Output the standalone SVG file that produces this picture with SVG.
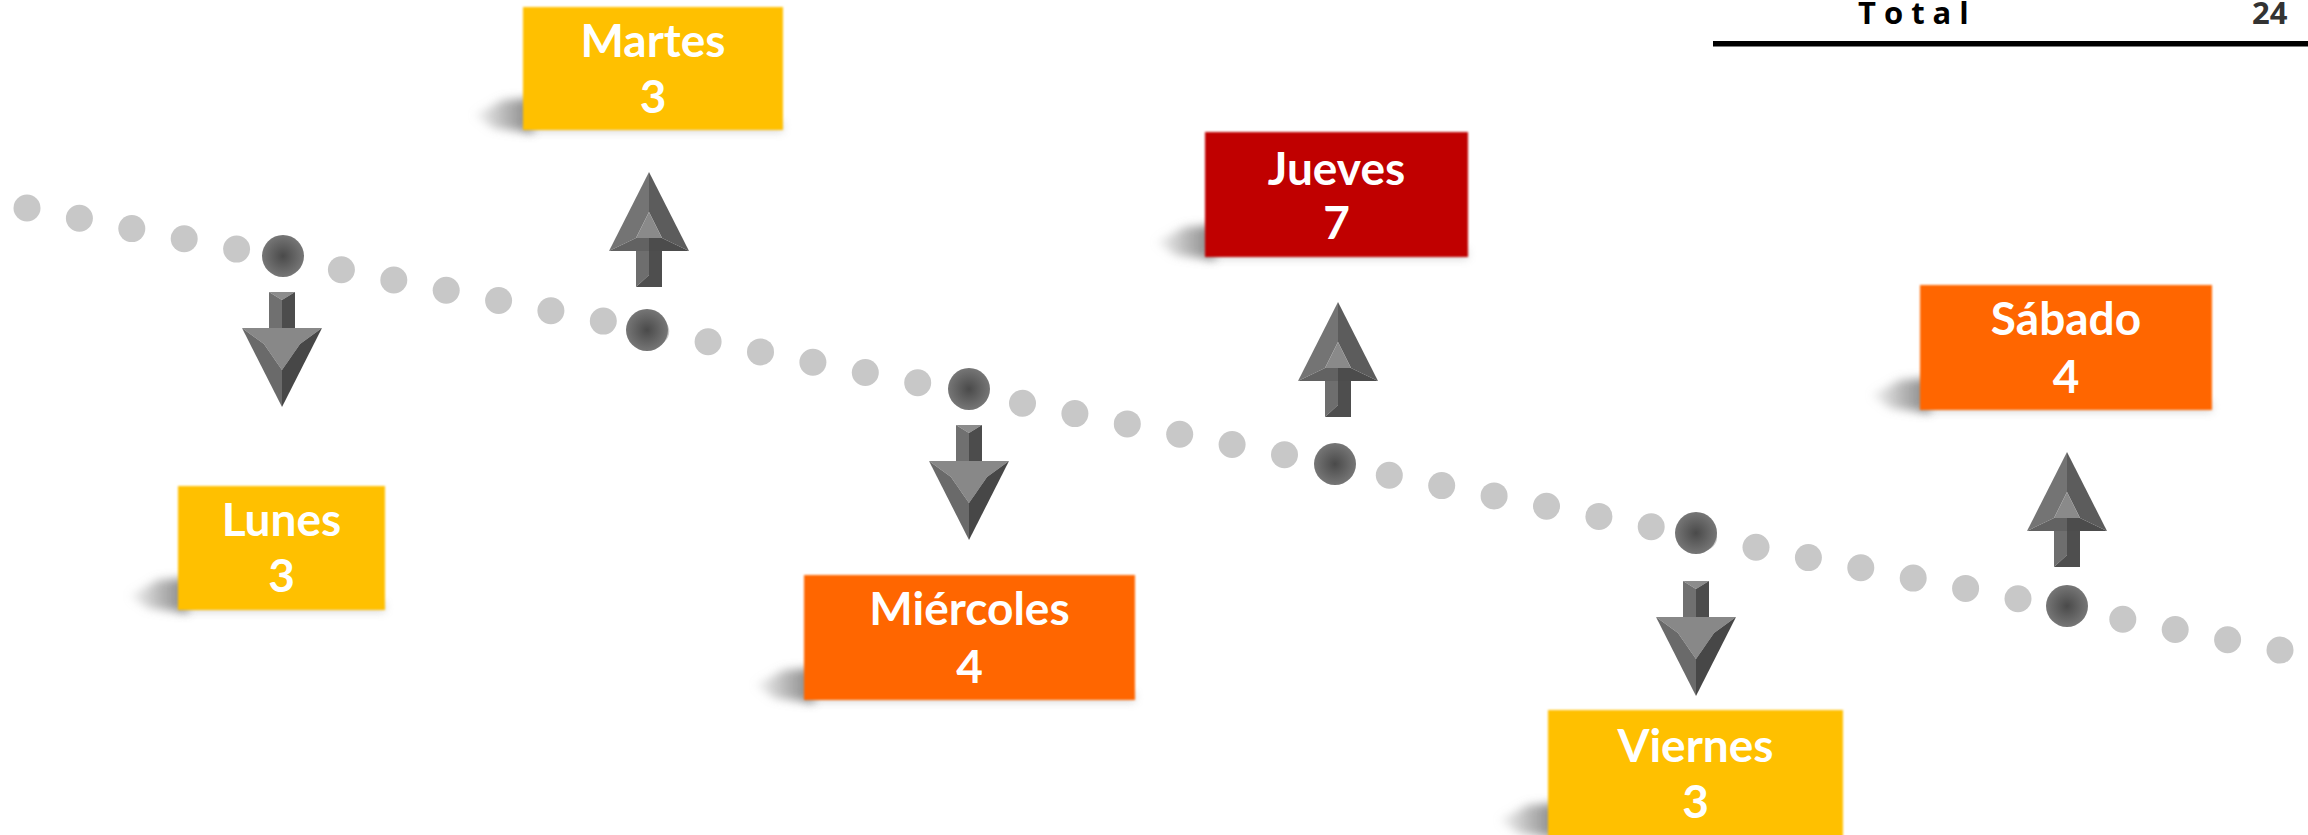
<svg xmlns="http://www.w3.org/2000/svg" xmlns:xlink="http://www.w3.org/1999/xlink" width="2308" height="835" viewBox="0 0 2308 835">
<style>
.lbl{font-family:Lato,"Open Sans","Liberation Sans",sans-serif;font-weight:bold;font-size:46px;fill:#ffffff;text-anchor:middle}
.dot{fill:#c8c8c8}
.hub{fill:url(#hubGrad)}
.shadow{fill:url(#shGrad);filter:url(#blur5)}
.glow{fill:#a0a0a0;opacity:0.4;filter:url(#blur4)}
.box{filter:url(#soft)}
.yellow{fill:#ffc000}
.orange{fill:#ff6600}
.red{fill:#c00000}
.tot{font-family:"Open Sans","Liberation Sans",sans-serif;font-weight:bold;font-size:31px}
</style>
<defs>
<radialGradient id="hubGrad" cx="0.5" cy="0.5" r="0.5">
<stop offset="0" stop-color="#4a4a4a"/>
<stop offset="1" stop-color="#767676"/>
</radialGradient>
<linearGradient id="shGrad" x1="0" y1="0" x2="1" y2="0">
<stop offset="0" stop-color="#b0b0b0" stop-opacity="0.2"/>
<stop offset="0.5" stop-color="#8a8a8a" stop-opacity="0.6"/>
<stop offset="1" stop-color="#6a6a6a" stop-opacity="0.85"/>
</linearGradient>
<filter id="blur5" x="-50%" y="-50%" width="200%" height="200%"><feGaussianBlur stdDeviation="5"/></filter>
<filter id="blur4" x="-20%" y="-100%" width="140%" height="300%"><feGaussianBlur stdDeviation="4"/></filter>
<filter id="soft" x="-5%" y="-5%" width="110%" height="110%"><feGaussianBlur stdDeviation="1.2"/></filter>
<g id="up">
<polygon points="0,0 -40,79 -13,66 0,40" fill="#747474"/>
<polygon points="0,0 0,40 13,66 40,79" fill="#5c5c5c"/>
<polygon points="0,40 -13,66 13,66" fill="#8a8a8a"/>
<polygon points="-40,79 -13,66 0,66 0,79" fill="#626262"/>
<polygon points="40,79 13,66 0,66 0,79" fill="#4c4c4c"/>
<polygon points="-13,79 0,79 0,103 -13,115" fill="#6e6e6e"/>
<polygon points="0,79 13,79 13,115 -13,115 0,103" fill="#4e4e4e"/>
</g>
<g id="down">
<polygon points="-13,0 13,0 0,8" fill="#8c8c8c"/>
<polygon points="-13,0 0,8 0,40 -13,40" fill="#707070"/>
<polygon points="13,0 0,8 0,40 13,40" fill="#4c4c4c"/>
<polygon points="-40,36 40,36 18,52 0,78 -18,52" fill="#888888"/>
<polygon points="-40,36 -18,52 0,78 0,115" fill="#6a6a6a"/>
<polygon points="40,36 18,52 0,78 0,115" fill="#474747"/>
</g>
</defs>
<rect width="2308" height="835" fill="#ffffff"/>

<g id="total">
<text class="tot" x="1858" y="24" letter-spacing="8" fill="#000000">Total</text>
<text class="tot" x="2252" y="24" fill="#333333">24</text>
<rect x="1713" y="41" width="595" height="5.5" fill="#000000"/>
</g>

<g id="connectors">
<g id="dots">
<circle class="dot" cx="27.0" cy="208.0" r="13.5"/>
<circle class="dot" cx="79.4" cy="218.3" r="13.5"/>
<circle class="dot" cx="131.8" cy="228.6" r="13.5"/>
<circle class="dot" cx="184.2" cy="238.8" r="13.5"/>
<circle class="dot" cx="236.6" cy="249.1" r="13.5"/>
<circle class="dot" cx="289.0" cy="259.4" r="13.5"/>
<circle class="dot" cx="341.4" cy="269.7" r="13.5"/>
<circle class="dot" cx="393.8" cy="280.0" r="13.5"/>
<circle class="dot" cx="446.2" cy="290.2" r="13.5"/>
<circle class="dot" cx="498.6" cy="300.5" r="13.5"/>
<circle class="dot" cx="550.9" cy="310.8" r="13.5"/>
<circle class="dot" cx="603.3" cy="321.1" r="13.5"/>
<circle class="dot" cx="655.7" cy="331.4" r="13.5"/>
<circle class="dot" cx="708.1" cy="341.7" r="13.5"/>
<circle class="dot" cx="760.5" cy="351.9" r="13.5"/>
<circle class="dot" cx="812.9" cy="362.2" r="13.5"/>
<circle class="dot" cx="865.3" cy="372.5" r="13.5"/>
<circle class="dot" cx="917.7" cy="382.8" r="13.5"/>
<circle class="dot" cx="970.1" cy="393.1" r="13.5"/>
<circle class="dot" cx="1022.5" cy="403.3" r="13.5"/>
<circle class="dot" cx="1074.9" cy="413.6" r="13.5"/>
<circle class="dot" cx="1127.3" cy="423.9" r="13.5"/>
<circle class="dot" cx="1179.7" cy="434.2" r="13.5"/>
<circle class="dot" cx="1232.1" cy="444.5" r="13.5"/>
<circle class="dot" cx="1284.5" cy="454.8" r="13.5"/>
<circle class="dot" cx="1336.9" cy="465.0" r="13.5"/>
<circle class="dot" cx="1389.3" cy="475.3" r="13.5"/>
<circle class="dot" cx="1441.7" cy="485.6" r="13.5"/>
<circle class="dot" cx="1494.1" cy="495.9" r="13.5"/>
<circle class="dot" cx="1546.5" cy="506.2" r="13.5"/>
<circle class="dot" cx="1598.9" cy="516.4" r="13.5"/>
<circle class="dot" cx="1651.2" cy="526.7" r="13.5"/>
<circle class="dot" cx="1703.6" cy="537.0" r="13.5"/>
<circle class="dot" cx="1756.0" cy="547.3" r="13.5"/>
<circle class="dot" cx="1808.4" cy="557.6" r="13.5"/>
<circle class="dot" cx="1860.8" cy="567.8" r="13.5"/>
<circle class="dot" cx="1913.2" cy="578.1" r="13.5"/>
<circle class="dot" cx="1965.6" cy="588.4" r="13.5"/>
<circle class="dot" cx="2018.0" cy="598.7" r="13.5"/>
<circle class="dot" cx="2070.4" cy="609.0" r="13.5"/>
<circle class="dot" cx="2122.8" cy="619.3" r="13.5"/>
<circle class="dot" cx="2175.2" cy="629.5" r="13.5"/>
<circle class="dot" cx="2227.6" cy="639.8" r="13.5"/>
<circle class="dot" cx="2280.0" cy="650.1" r="13.5"/>
</g>
<g id="hubs">
<circle class="hub" cx="283" cy="256" r="21"/>
<circle class="hub" cx="647" cy="330" r="21"/>
<circle class="hub" cx="969" cy="389" r="21"/>
<circle class="hub" cx="1335" cy="464" r="21"/>
<circle class="hub" cx="1696" cy="533" r="21"/>
<circle class="hub" cx="2067" cy="606" r="21"/>
</g>
<g id="arrows">
<use href="#down" transform="translate(282,292)"/>
<use href="#up" transform="translate(649,172)"/>
<use href="#down" transform="translate(969,425)"/>
<use href="#up" transform="translate(1338,302)"/>
<use href="#down" transform="translate(1696,581)"/>
<use href="#up" transform="translate(2067,452)"/>
</g>
</g>

<g id="lunes">
<polygon class="shadow" points="130,596 158,580 188,578 188,613 148,608"/>
<rect class="glow" x="180" y="602" width="205" height="10"/>
<rect class="box yellow" x="178" y="486" width="207" height="124"/>
<text class="lbl" x="281.5" y="536">Lunes</text>
<text class="lbl" x="281.5" y="592">3</text>
</g>

<g id="martes">
<polygon class="shadow" points="475,115 503,100 533,98 533,133 493,128"/>
<rect class="glow" x="525" y="122" width="258" height="10"/>
<rect class="box yellow" x="523" y="7" width="260" height="123"/>
<text class="lbl" x="653" y="57">Martes</text>
<text class="lbl" x="653" y="113">3</text>
</g>

<g id="miercoles">
<polygon class="shadow" points="756,685 784,670 814,668 814,703 774,698"/>
<rect class="glow" x="806" y="692" width="329" height="10"/>
<rect class="box orange" x="804" y="575" width="331" height="125"/>
<text class="lbl" x="969.5" y="625">Miércoles</text>
<text class="lbl" x="969.5" y="683">4</text>
</g>

<g id="jueves">
<polygon class="shadow" points="1157,242 1185,227 1215,225 1215,260 1175,255"/>
<rect class="glow" x="1207" y="249" width="261" height="10"/>
<rect class="box red" x="1205" y="132" width="263" height="125"/>
<text class="lbl" x="1336.5" y="185">Jueves</text>
<text class="lbl" x="1336.5" y="239">7</text>
</g>

<g id="viernes">
<polygon class="shadow" points="1500,820 1528,805 1558,803 1558,838 1518,833"/>
<rect class="box yellow" x="1548" y="710" width="295" height="130"/>
<text class="lbl" x="1695.5" y="762">Viernes</text>
<text class="lbl" x="1695.5" y="818">3</text>
</g>

<g id="sabado">
<polygon class="shadow" points="1872,395 1900,380 1930,378 1930,413 1890,408"/>
<rect class="glow" x="1922" y="402" width="290" height="10"/>
<rect class="box orange" x="1920" y="285" width="292" height="125"/>
<text class="lbl" x="2066" y="335">Sábado</text>
<text class="lbl" x="2066" y="393">4</text>
</g>
</svg>
